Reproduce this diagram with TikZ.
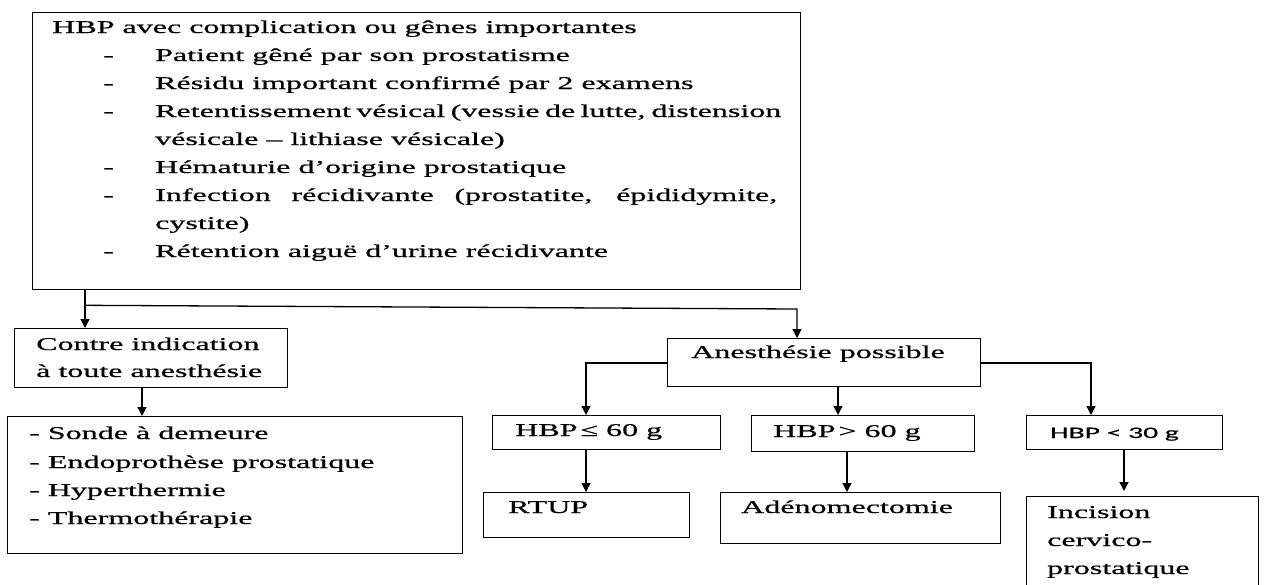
\documentclass[tikz,border=0pt]{standalone}
\usepackage{fontspec}
\setmainfont[FakeStretch=1.78,FakeBold=0.7]{Liberation Serif}
\newfontfamily\calfont[FakeStretch=1.85,FakeBold=0.5]{Carlito}
\usetikzlibrary{arrows.meta,calc}
\begin{document}
\begin{tikzpicture}[x=1pt,y=-1pt,
  box/.style={draw,line width=1.3pt,rectangle,inner sep=0pt,anchor=north west},
  txt/.style={anchor=base west,inner sep=0pt,font=\fontsize{18}{28}\selectfont},
  stxt/.style={anchor=base west,inner sep=0pt,font=\calfont\fontsize{16}{24}\selectfont},
  arr/.style={line width=1.3pt,-{Triangle[width=9pt,length=9pt]}}]
\clip (0,0) rectangle (1265,584);
\fill[white] (0,0) rectangle (1265,584);
% boxes
\node[box,minimum width=768pt,minimum height=277pt] (top) at (32,12) {};
\node[box,minimum width=273pt,minimum height=59pt] (ci) at (14,328) {};
\node[box,minimum width=455pt,minimum height=137pt] (list) at (7,416) {};
\node[box,minimum width=313pt,minimum height=48pt] (an) at (667,338) {};
\node[box,minimum width=228pt,minimum height=34pt] (hle) at (492,415) {};
\node[box,minimum width=223pt,minimum height=36pt] (hgt) at (751,415) {};
\node[box,minimum width=196pt,minimum height=34pt] (hlt) at (1026,415) {};
\node[box,minimum width=206pt,minimum height=45pt] (rtup) at (483,492) {};
\node[box,minimum width=280pt,minimum height=51pt] (aden) at (720,492) {};
\node[box,minimum width=232pt,minimum height=100pt] (inc) at (1026,496) {};
% top box text
\node[txt] (t0) at (52,33) {HBP avec complication ou gênes importantes};
\node[txt] (d1) at (103,61) {-};
\node[txt] (t1) at (155,61) {Patient gêné par son prostatisme};
\node[txt] (d2) at (103,89) {-};
\node[txt] (t2) at (155,89) {Résidu important confirmé par 2 examens};
\node[txt] (d3) at (103,117) {-};
\node[txt] (t3) at (155,117) {\makebox[622pt][s]{Retentissement vésical (vessie de lutte, distension}};
\node[txt] (t3b) at (155,145) {vésicale – lithiase vésicale)};
\node[txt] (d4) at (103,173) {-};
\node[txt] (t4) at (155,173) {Hématurie d’origine prostatique};
\node[txt] (d5) at (103,201) {-};
\node[txt] (t5) at (155,201) {\makebox[622pt][s]{Infection récidivante (prostatite, épididymite,}};
\node[txt] (t5b) at (155,229) {cystite)};
\node[txt] (d6) at (103,257) {-};
\node[txt] (t6) at (155,257) {Rétention aiguë d’urine récidivante};
% left branch
\node[txt] (c1) at (36,350) {Contre indication};
\node[txt] (c2) at (36,377) {à toute anesthésie};
\node[txt] (l1) at (29,439) {- Sonde à demeure};
\node[txt] (l2) at (29,468) {- Endoprothèse prostatique};
\node[txt] (l3) at (29,496) {- Hyperthermie};
\node[txt] (l4) at (29,524) {- Thermothérapie};
% right branch
\node[txt] (a1) at (691,358) {Anesthésie possible};
\node[txt] (b1) at (515,436) {HBP\,≤ 60 g};
\node[txt] (b2) at (773,437) {HBP\,> 60 g};
\node[stxt] (b3) at (1050,438) {HBP < 30 g};
\node[txt] (r1) at (508,513) {RTUP};
\node[txt] (r2) at (741,513) {Adénomectomie};
\node[txt] (r3) at (1047,518) {Incision};
\node[txt] (r4) at (1047,546) {cervico-};
\node[txt] (r5) at (1047,574) {prostatique};
% connectors
\draw[arr] ($(top.south west)+(53,0)$) -- ($(ci.north west)+(71,0)$);
\draw[arr] ($(top.south west)+(53,15)$) -- ($(an.north west)+(130,-29)$) -- ($(an.north west)+(130,0)$);
\draw[arr] ($(ci.south west)+(128,0)$) -- ($(list.north west)+(135,0)$);
\draw[arr] ($(an.north west)+(0,25)$) -| ($(hle.north west)+(94,0)$);
\draw[arr] ($(an.south west)+(171,0)$) -- ($(hgt.north west)+(87,0)$);
\draw[arr] ($(an.north east)+(0,25)$) -| ($(hlt.north west)+(65,0)$);
\draw[arr] ($(hle.south west)+(94,0)$) -- ($(rtup.north west)+(103,0)$);
\draw[arr] ($(hgt.south west)+(96,0)$) -- ($(aden.north west)+(127,0)$);
\draw[arr] ($(hlt.south west)+(98,0)$) -- ($(inc.north west)+(98,-5)$);
\end{tikzpicture}
\end{document}
